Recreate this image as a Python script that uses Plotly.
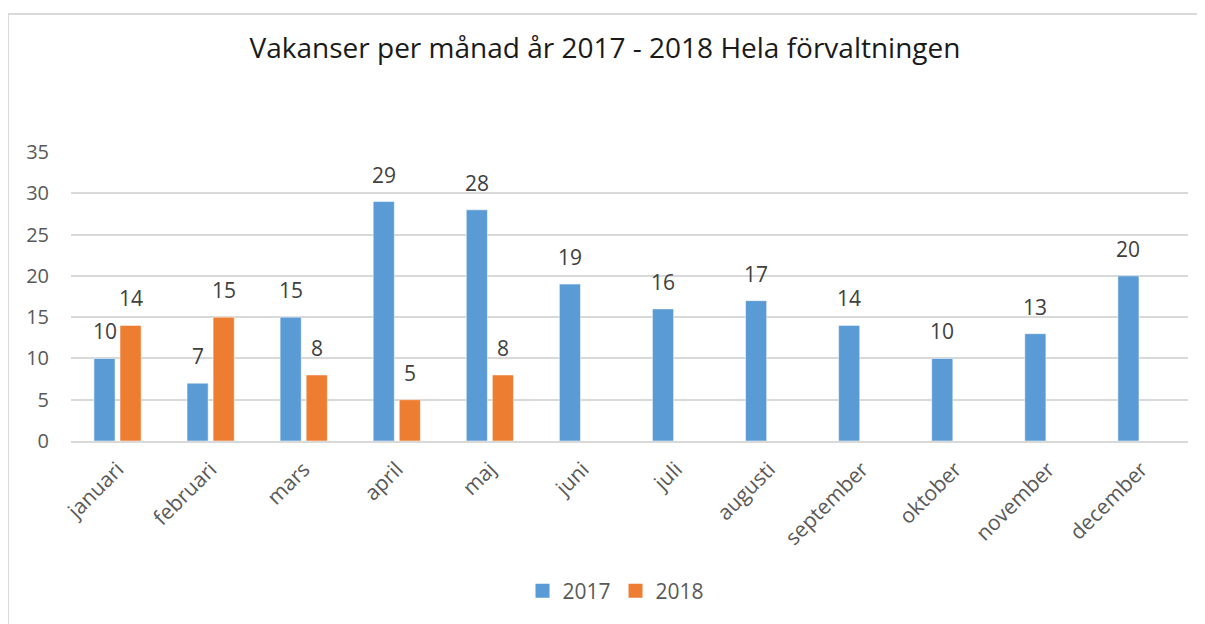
import plotly.graph_objects as go

months = ["januari", "februari", "mars", "april", "maj", "juni", "juli",
          "augusti", "september", "oktober", "november", "december"]
v2017 = [10, 7, 15, 29, 28, 19, 16, 17, 14, 10, 13, 20]
v2018 = [14, 15, 8, 5, 8, None, None, None, None, None, None, None]
y_ticks = [0, 5, 10, 15, 20, 25, 30, 35]

FONT = "Open Sans, Liberation Sans, sans-serif"
BLUE, ORANGE = "#5B9BD5", "#ED7D31"

fig = go.Figure()
fig.add_trace(go.Bar(x=months, y=v2017, name="2017", marker_color=BLUE,
                     marker_line=dict(color="white", width=0.5),
                     showlegend=False, offsetgroup="a"))
fig.add_trace(go.Bar(x=months, y=v2018, name="2018", marker_color=ORANGE,
                     marker_line=dict(color="white", width=0.5),
                     showlegend=False, offsetgroup="b"))
# legend entries with square symbols
for nm, col in (("2017", BLUE), ("2018", ORANGE)):
    fig.add_trace(go.Scatter(x=[None], y=[None], mode="markers", name=nm,
                             marker=dict(symbol="square", size=14, color=col)))

# page body offset of 8px: figure sized to fit the remaining window
OFF = 8
W, H = 1205 - OFF, 624 - OFF
ml, mt = 71 - OFF, 152 - OFF
mr = W - (1188 - OFF)
mb = H - (441 - OFF)
pw, ph = W - ml - mr, H - mt - mb
base = H - mb  # y pixel of plot bottom within figure

# data labels above bars
annotations = []
for i, m in enumerate(months):
    for vals, dx in ((v2017, -13), (v2018, 13)):
        v = vals[i]
        if v is None:
            continue
        annotations.append(dict(x=m, y=v, xref="x", yref="y", text=str(v),
                                showarrow=False, xshift=dx, yshift=27,
                                yanchor="middle",
                                font=dict(size=21, color="#404040",
                                          family=FONT)))

fig.update_layout(
    width=W, height=H,
    margin=dict(l=ml, r=mr, t=mt, b=mb),
    paper_bgcolor="white", plot_bgcolor="white",
    barmode="group", bargap=0.44, bargroupgap=0.19,
    title=dict(text="Vakanser per månad år 2017 - 2018 Hela förvaltningen",
               x=(605 - OFF) / W, xanchor="center", y=1 - (48 - OFF) / H,
               yanchor="middle",
               font=dict(size=28, color="#1a1a1a", family=FONT)),
    font=dict(family=FONT, color="#595959"),
    legend=dict(orientation="h", x=(616 - 71) / pw,
                xanchor="center", y=-((591 - OFF) - base) / ph,
                yanchor="middle", font=dict(size=21, color="#595959"),
                itemwidth=30, traceorder="normal"),
    xaxis=dict(tickangle=-45, tickfont=dict(size=21, color="#595959"),
               showline=True, linecolor="#D9D9D9", linewidth=1.5, ticks="",
               ticklabelstandoff=6),
    yaxis=dict(range=[0, 35], tickvals=y_ticks, showgrid=True,
               gridcolor="#D9D9D9", gridwidth=1.5, zeroline=False,
               tickfont=dict(size=20, color="#595959"), ticks="",
               ticklabelstandoff=21),
    annotations=annotations,
    shapes=[
        dict(type="line", xref="paper", yref="paper",
             x0=(7 - OFF - ml) / pw, x1=(W + 5 - ml) / pw,
             y0=(base - (14 - OFF)) / ph, y1=(base - (14 - OFF)) / ph,
             line=dict(color="#D9D9D9", width=2)),
        dict(type="line", xref="paper", yref="paper",
             x0=(7 - OFF - ml + 1) / pw, x1=(7 - OFF - ml + 1) / pw,
             y0=(base - (14 - OFF)) / ph, y1=-(mb + 5) / ph,
             line=dict(color="#D9D9D9", width=2)),
    ],
)

fig.write_html("out.html")
